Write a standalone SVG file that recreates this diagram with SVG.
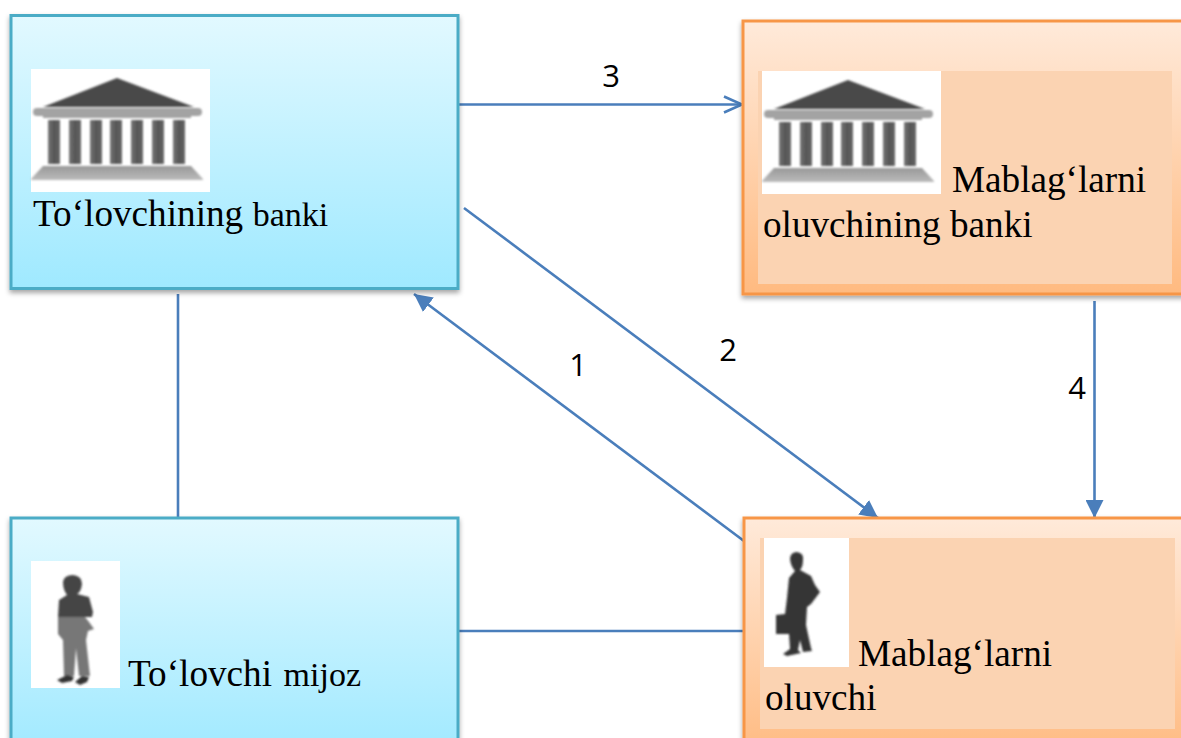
<svg xmlns="http://www.w3.org/2000/svg" width="1181" height="738" viewBox="0 0 1181 738">
<style>
.t{font-family:"Liberation Serif","Times New Roman",serif;fill:#000}
.b{font-size:37.200px}.s{font-size:34px}
.n{font-family:"Open Sans","Liberation Sans",sans-serif;font-size:31px;fill:#000}
.bl{fill:url(#blue);stroke:#4bacc6;stroke-width:3;filter:url(#sh)}
.or{fill:url(#orange);stroke:#f79646;stroke-width:3;filter:url(#sh)}
.in{fill:#fbd3b2}
.c{fill:none;stroke:#4a7ebb;stroke-width:2.600}
</style>
<defs>
<linearGradient id="blue" x1="0" y1="0" x2="0" y2="1"><stop offset="0" stop-color="#e2f9ff"/><stop offset="1" stop-color="#9fe9ff"/></linearGradient>
<linearGradient id="orange" x1="0" y1="0" x2="0" y2="1"><stop offset="0" stop-color="#ffeada"/><stop offset="1" stop-color="#ffba80"/></linearGradient>
<linearGradient id="col" x1="0" y1="0" x2="1" y2="0"><stop offset="0" stop-color="#777"/><stop offset=".5" stop-color="#555"/><stop offset="1" stop-color="#666"/></linearGradient>
<linearGradient id="base" x1="0" y1="0" x2="0" y2="1"><stop offset="0" stop-color="#999"/><stop offset="1" stop-color="#bbb"/></linearGradient>
<filter id="sh" x="-5%" y="-5%" width="110%" height="110%"><feDropShadow dx="0" dy="3" stdDeviation="2.500" flood-color="#000" flood-opacity=".35"/></filter>
<filter id="bl" x="-5%" y="-5%" width="110%" height="110%"><feGaussianBlur stdDeviation=".8"/></filter>
<marker id="tri" markerUnits="userSpaceOnUse" markerWidth="20" markerHeight="18" refX="18" refY="9" orient="auto"><path d="M0 0L18 9L0 18z" fill="#4a7ebb"/></marker>
<marker id="open" markerUnits="userSpaceOnUse" markerWidth="22" markerHeight="20" refX="20" refY="10" orient="auto"><path d="M2 2L20 10L2 18" fill="none" stroke="#4a7ebb" stroke-width="2.600"/></marker>
<g id="bank">
<rect width="179" height="123" fill="#fff"/>
<g filter="url(#bl)">
<path d="M86 9L163 38H12z" fill="#4a4a4a"/>
<rect x="2" y="39" width="169" height="8" rx="4" fill="#a3a3a3"/>
<rect x="12" y="44" width="148" height="5" fill="#a3a3a3"/>
<g fill="url(#col)"><rect x="17" y="51" width="12" height="44"/><rect x="38" y="51" width="12" height="44"/><rect x="59" y="51" width="12" height="44"/><rect x="79" y="51" width="12" height="44"/><rect x="100" y="51" width="12" height="44"/><rect x="121" y="51" width="12" height="44"/><rect x="142" y="51" width="12" height="44"/></g>
<path d="M12 97H160L172 110V111H0V110z" fill="url(#base)"/>
</g>
</g>
</defs>
<g id="connectors">
<path class="c" d="M178 294V518"/>
<path class="c" d="M458 631H744"/>
<path class="c" marker-end="url(#open)" d="M458 104.500H742"/>
<path class="c" marker-end="url(#tri)" d="M464 208L878 518"/>
<path class="c" marker-end="url(#tri)" d="M744 541L414 294"/>
<path class="c" marker-end="url(#tri)" d="M1094.500 301V518"/>
</g>
<g id="n1">
<rect class="bl" x="11" y="15.500" width="447" height="273"/>
<use href="#bank" x="31" y="69"/>
<text class="t" x="33" y="226"><tspan class="b">To‘lovchining</tspan><tspan class="s" dx="1"> banki</tspan></text>
</g>
<g id="n2">
<rect class="or" x="743" y="21" width="460" height="273"/>
<rect class="in" x="758" y="71" width="414" height="213"/>
<use href="#bank" x="762" y="71"/>
<text class="t b" x="952" y="192">Mablag‘larni</text>
<text class="t b" x="763" y="237">oluvchining banki</text>
</g>
<g id="n3">
<rect class="bl" x="11" y="518" width="447" height="240"/>
<rect x="31" y="561" width="89" height="127" fill="#fff"/>
<g filter="url(#bl)">
<path d="M63 582Q64 575 73 575Q82 576 82 584Q81 592 77 594L89 597L93 612L92 617H58L59 600L67 595Q63 590 63 582z" fill="#454545"/>
<path d="M58 617H85L89 622L94 629L88 631L86 640L90 676H79L76 648L74 676H64L63 640L58 634z" fill="#777"/>
<path d="M57 680L67 675L74 677L72 681L62 683zM75 682L82 676L89 677L87 682L80 685z" fill="#333"/>
</g>
<text class="t" x="128" y="686"><tspan class="b">To‘lovchi</tspan><tspan class="s" dx="3"> mijoz</tspan></text>
</g>
<g id="n4">
<rect class="or" x="744" y="518" width="460" height="240"/>
<rect class="in" x="760" y="538" width="415" height="191"/>
<rect x="764" y="538" width="85" height="129" fill="#fff"/>
<g filter="url(#bl)">
<path d="M790 558Q791 552 797 552Q804 553 803 560Q803 567 800 570L811 576L815 585L820 592L811 604L807 607L806 625L811 648L812 651L803 652L800 640L798 650L801 653L787 656L783 654L790 649L789 634L776 634L776 615L785 614L787 598L789 578L795 571Q790 565 790 558z" fill="#363636"/>
</g>
<text class="t b" x="858" y="666">Mablag‘larni</text>
<text class="t b" x="765" y="710">oluvchi</text>
</g>
<g id="labels">
<text class="n" x="611" y="87" text-anchor="middle">3</text>
<text class="n" x="728" y="361" text-anchor="middle">2</text>
<text class="n" x="578" y="376" text-anchor="middle">1</text>
<text class="n" x="1077" y="399" text-anchor="middle">4</text>
</g>
</svg>
